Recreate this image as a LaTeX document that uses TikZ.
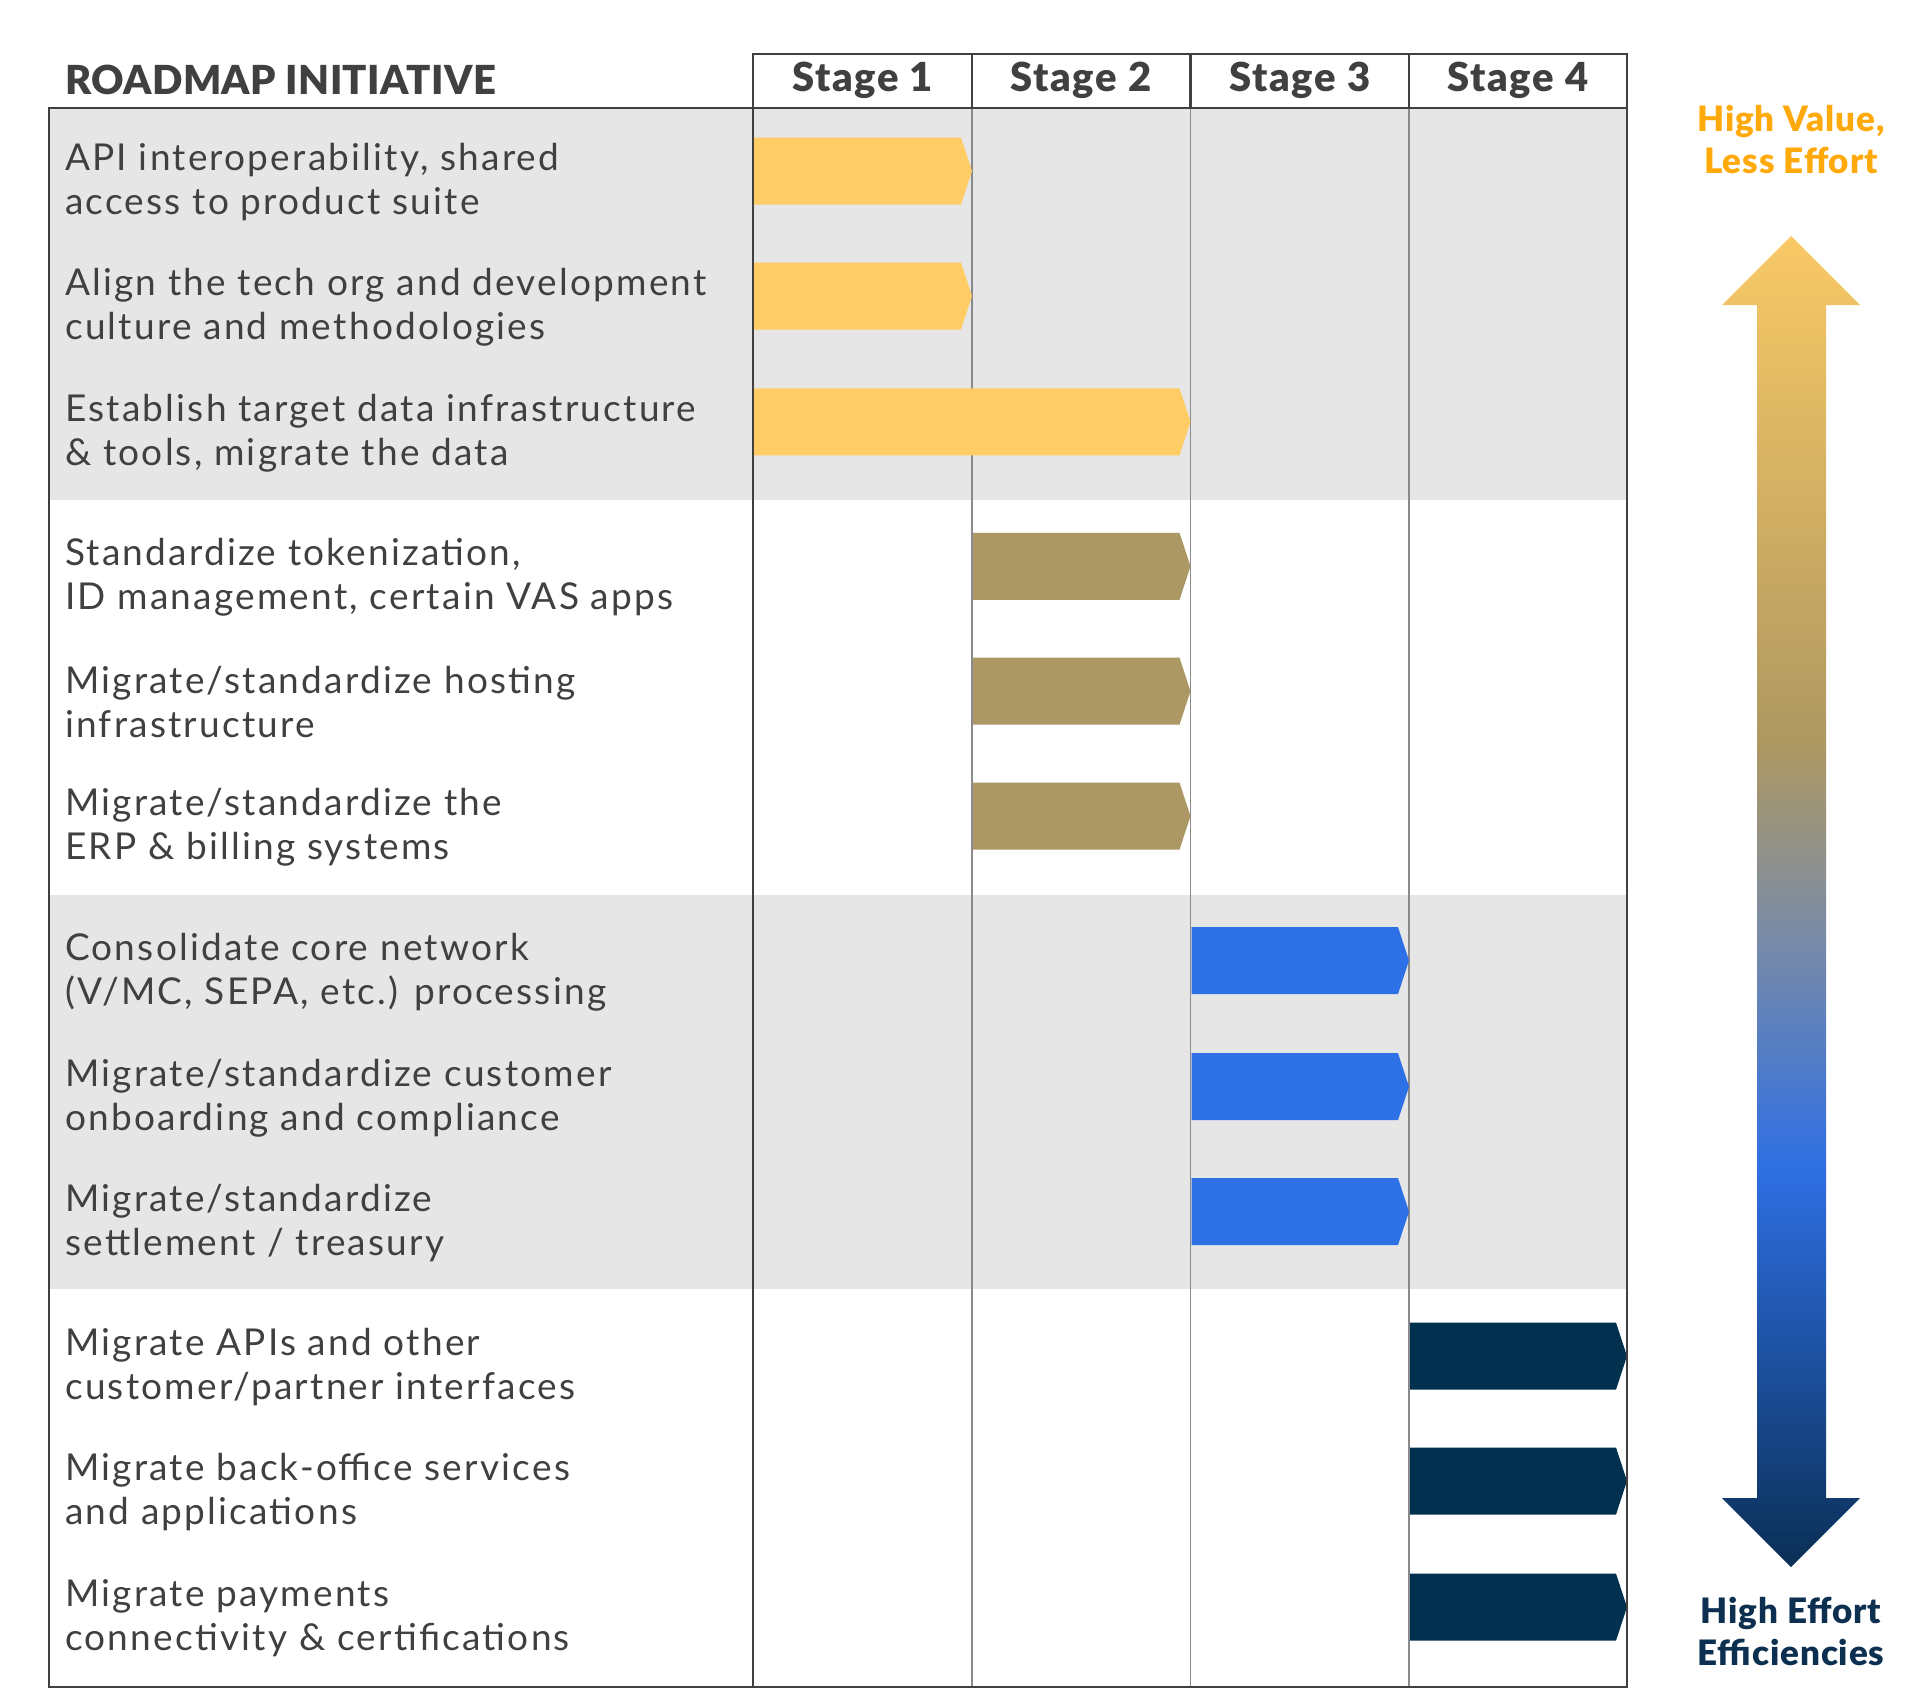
\documentclass[tikz,border=0pt]{standalone}
\usepackage{fontspec}
\setmainfont{Lato}
\newfontfamily\lightf[LetterSpace=6]{Lato}
\newfontfamily\heavyf[LetterSpace=1]{Lato Black}
\newfontfamily\stagef[LetterSpace=4]{Lato Black}
\newfontfamily\sidef[LetterSpace=2.5]{Lato Black}
\definecolor{bandgrey}{HTML}{E6E6E6}
\definecolor{framec}{HTML}{404040}
\definecolor{thinc}{HTML}{8A8A8A}
\definecolor{txt}{HTML}{404040}
\definecolor{cyellow}{HTML}{FFCC66}
\definecolor{ckhaki}{HTML}{AC9865}
\definecolor{cblue}{HTML}{2E70E6}
\definecolor{cnavy}{HTML}{023150}
\definecolor{gold}{HTML}{FFAA0A}
\definecolor{navytxt}{HTML}{0D3050}
\definecolor{shgold}{HTML}{F9C965}
\definecolor{shkhaki}{HTML}{AE9862}
\definecolor{shgrey}{HTML}{7C8CA4}
\definecolor{shblue}{HTML}{2F6FE4}
\definecolor{shnavy}{HTML}{0A2F55}
\pgfdeclareverticalshading{bigarrow}{100bp}{color(0bp)=(shnavy); color(25bp)=(shnavy); color(40bp)=(shblue); color(49bp)=(shgrey); color(56bp)=(shkhaki); color(75bp)=(shgold); color(100bp)=(shgold)}
\newcommand\roadbar[4]{\fill[#1] (#2,#4-33.5) -- (#3-11,#4-33.5) -- (#3,#4) -- (#3-11,#4+33.5) -- (#2+1,#4+33.5) -- (#2+1,#4-33.5) -- cycle;}
\tikzset{
  rowtext/.style={anchor=west, align=left, inner sep=0pt, text=txt, font=\lightf\fontsize{37}{43.5}\selectfont},
  headtext/.style={inner sep=0pt, text=txt, font=\heavyf\fontsize{40}{44}\selectfont},
  stagetext/.style={inner sep=0pt, text=txt, font=\stagef\fontsize{40}{44}\selectfont},
  sidetext/.style={inner sep=0pt, align=center, font=\sidef\fontsize{35}{42}\selectfont},
  frameline/.style={draw=framec, line width=2.2pt},
  colline/.style={draw=thinc, line width=1.2pt}
}
\begin{document}
\begin{tikzpicture}[x=1pt,y=-1pt]
\useasboundingbox (0,0) rectangle (1920,1706);
% bands
\fill[bandgrey] (49,108) rectangle (1627,499.6);
\fill[bandgrey] (49,895) rectangle (1627,1289.4);
% column lines
\foreach \cx in {972,1190.5,1409} \draw[colline] (\cx,108) -- (\cx,1687);
% bars
\roadbar{cyellow}{753}{972}{171}
\roadbar{cyellow}{753}{972}{296}
\roadbar{cyellow}{753}{1190.5}{421.8}
\roadbar{ckhaki}{972}{1190.5}{566.3}
\roadbar{ckhaki}{972}{1190.5}{691.2}
\roadbar{ckhaki}{972}{1190.5}{816.1}
\roadbar{cblue}{1190.5}{1409}{960.6}
\roadbar{cblue}{1190.5}{1409}{1086.7}
\roadbar{cblue}{1190.5}{1409}{1211.6}
\roadbar{cnavy}{1409}{1627}{1356.1}
\roadbar{cnavy}{1409}{1627}{1481}
\roadbar{cnavy}{1409}{1627}{1607.1}
% frame
\draw[frameline] (49,108) rectangle (1627,1687);
\draw[frameline] (753,54) rectangle (1627,108);
\draw[frameline] (753,108) -- (753,1687);
\foreach \cx in {972,1190.5,1409} \draw[frameline] (\cx,54) -- (\cx,108);
% headers
\node[headtext, anchor=west] (title) at (65,80) {ROADMAP INITIATIVE};
\node[stagetext] (s1) at (862.5,80) {Stage 1};
\node[stagetext] (s2) at (1081,80) {Stage 2};
\node[stagetext] (s3) at (1300,80) {Stage 3};
\node[stagetext] (s4) at (1518,80) {Stage 4};
% row texts
\node[rowtext] (r1) at (65,182) {API interoperability, shared\\access to product suite};
\node[rowtext] (r2) at (65,307) {Align the tech org and development\\culture and methodologies};
\node[rowtext] (r3) at (65,433) {Establish target data infrastructure\\\& tools, migrate the data};
\node[rowtext] (r4) at (65,577) {Standardize tokenization,\\ID management, certain VAS apps};
\node[rowtext] (r5) at (65,702) {Migrate/standardize hosting\\infrastructure};
\node[rowtext] (r6) at (65,827) {Migrate/standardize the\\ERP \& billing systems};
\node[rowtext] (r7) at (65,972) {Consolidate core network\\(V/MC, SEPA, etc.) processing};
\node[rowtext] (r8) at (65,1098) {Migrate/standardize customer\\onboarding and compliance};
\node[rowtext] (r9) at (65,1223) {Migrate/standardize\\settlement / treasury};
\node[rowtext] (r10) at (65,1367) {Migrate APIs and other\\customer/partner interfaces};
\node[rowtext] (r11) at (65,1492) {Migrate back-office services\\and applications};
\node[rowtext] (r12) at (65,1618) {Migrate payments\\connectivity \& certifications};
% side arrow
\path[shading=bigarrow] (1791,236) -- (1860,305) -- (1826,305) -- (1826,1498) -- (1860,1498) -- (1791,1567) -- (1722,1498) -- (1757,1498) -- (1757,305) -- (1722,305) -- cycle;
\node[sidetext, text=gold] (hv) at (1791,139) {High Value,\\Less Effort};
\node[sidetext, text=navytxt] (he) at (1791,1631) {High Effort\\Efficiencies};
\end{tikzpicture}
\end{document}
